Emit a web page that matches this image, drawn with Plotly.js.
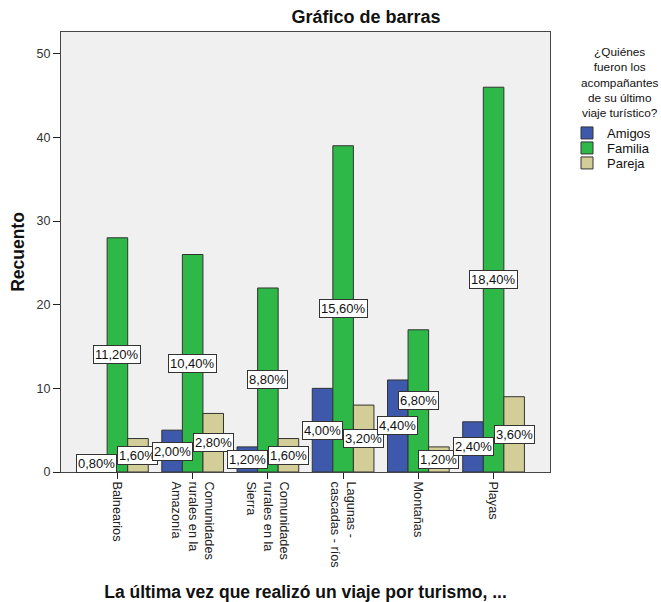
<!DOCTYPE html>
<html>
<head>
<meta charset="utf-8">
<script src="https://cdn.plot.ly/plotly-3.0.1.min.js"></script>
<style>
  html, body { margin: 0; padding: 0; background: #ffffff; }
  #chart { width: 661px; height: 602px; }
</style>
</head>
<body>
<div id="chart"></div>
<script>
// ---- data ----
var categories = [
  "Balnearios",
  "Comunidades<br>rurales en la<br>Amazonía",
  "Comunidades<br>rurales en la<br>Sierra",
  "Lagunas -<br>cascadas - ríos",
  "Montañas",
  "Playas"
];
var seriesNames = ["Amigos", "Familia", "Pareja"];
var amigos  = [2, 5, 3, 10, 11, 6];
var familia = [28, 26, 22, 39, 17, 46];
var pareja  = [4, 7, 4, 8, 3, 9];
var amigosPct  = ["0,80%", "2,00%", "1,20%", "4,00%", "4,40%", "2,40%"];
var familiaPct = ["11,20%", "10,40%", "8,80%", "15,60%", "6,80%", "18,40%"];
var parejaPct  = ["1,60%", "2,80%", "1,60%", "3,20%", "1,20%", "3,60%"];
var colors = ["#3e58ac", "#2eb848", "#d3ce97"];

var FONT = "Liberation Sans, Arial, sans-serif";
var BARGAP = 0.18;

var values = [amigos, familia, pareja];
var pcts = [amigosPct, familiaPct, parejaPct];
var legendIds = ["legend", "legend2", "legend3"];

var traces = values.map(function (vals, j) {
  return {
    type: "bar",
    name: seriesNames[j],
    x: categories,
    y: vals,
    legend: legendIds[j],
    marker: { color: colors[j], line: { color: "#333333", width: 1 } },
    hoverinfo: "x+y+name"
  };
});

// percentage labels at bar centre (half height), via data coordinates
// drawn category by category so later groups sit on top (as in the reference)
var annotations = [];
var barW = (1 - BARGAP) / 3;
categories.forEach(function (c, i) {
  values.forEach(function (vals, j) {
    annotations.push({
      x: i + (j - 1) * barW,
      y: vals[i] / 2,
      xref: "x", yref: "y",
      text: pcts[j][i],
      showarrow: false,
      font: { family: FONT, size: 13, color: "#111111" },
      bgcolor: "#ffffff",
      bordercolor: "#333333",
      borderwidth: 1,
      borderpad: 1
    });
  });
});

// legend title (centred block, as in the reference)
annotations.push({
  xref: "paper", yref: "paper",
  x: (619 - 61) / 489, y: 1 - (43 - 32) / 440,
  xanchor: "center", yanchor: "top",
  text: "¿Quiénes<br>fueron los<br>acompañantes<br>de su último<br>viaje turístico?",
  showarrow: false, align: "center",
  font: { family: FONT, size: 11.8, color: "#111111" }
});

function legendAt(py) {
  return {
    xref: "container", yref: "container",
    x: 567 / 661, xanchor: "left",
    y: 1 - py / 602, yanchor: "middle",
    bgcolor: "rgba(0,0,0,0)",
    borderwidth: 0,
    font: { family: FONT, size: 13, color: "#111111" },
    itemclick: false, itemdoubleclick: false
  };
}

var layout = {
  width: 661, height: 602,
  margin: { l: 61, r: 111, t: 32, b: 130, autoexpand: false },
  paper_bgcolor: "#ffffff",
  plot_bgcolor: "#f0f0f0",
  font: { family: FONT, size: 12, color: "#222222" },
  barmode: "group",
  bargap: BARGAP,
  bargroupgap: 0,
  title: {
    text: "<b>Gráfico de barras</b>",
    font: { family: FONT, size: 18, color: "#111111" },
    xref: "paper", x: (366 - 61) / 489, xanchor: "center",
    yref: "container", y: 1 - 17 / 602, yanchor: "middle"
  },
  xaxis: {
    type: "category",
    range: [-0.75, 5.75],
    showgrid: false,
    zeroline: false,
    showline: true, mirror: true, linecolor: "#444444", linewidth: 1,
    ticks: "outside", ticklen: 6, tickcolor: "#222222",
    tickangle: 90,
    tickfont: { family: FONT, size: 12.7, color: "#222222" },
    title: {
      text: "<b>La última vez que realizó un viaje por turismo, ...</b>",
      font: { family: FONT, size: 17.5, color: "#111111" },
      standoff: 20
    },
    fixedrange: true
  },
  yaxis: {
    range: [0, 52.6],
    tickvals: [0, 10, 20, 30, 40, 50],
    showgrid: false,
    zeroline: false,
    showline: true, mirror: true, linecolor: "#444444", linewidth: 1,
    ticks: "outside", ticklen: 7, tickcolor: "#222222",
    tickfont: { family: FONT, size: 12.5, color: "#333333" },
    title: {
      text: "<b>Recuento</b>",
      font: { family: FONT, size: 17.5, color: "#111111" },
      standoff: 7
    },
    fixedrange: true
  },
  showlegend: true,
  legend: legendAt(133),
  legend2: legendAt(148),
  legend3: legendAt(163),
  annotations: annotations
};

Plotly.newPlot("chart", traces, layout, { displayModeBar: false, staticPlot: true });
</script>
</body>
</html>
